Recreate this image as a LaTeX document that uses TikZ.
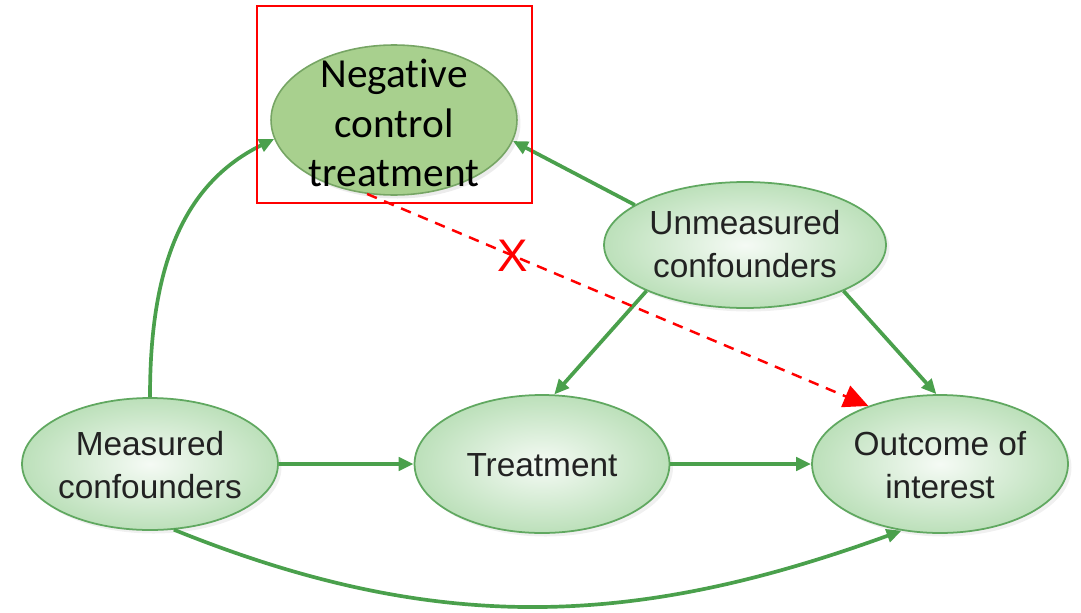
\documentclass[tikz,border=0pt]{standalone}
\usepackage{fontspec}
\newfontfamily\arialfont{Liberation Sans}
\newfontfamily\calfont[Ligatures=NoCommon]{Carlito}
\usetikzlibrary{arrows.meta,shapes.geometric,shadows}
\definecolor{edgegreen}{RGB}{74,160,76}
\definecolor{rimgreen}{RGB}{96,168,96}
\definecolor{palegreen}{RGB}{188,224,186}
\definecolor{negfill}{RGB}{168,208,142}
\definecolor{negrim}{RGB}{118,165,100}
\definecolor{textgray}{RGB}{34,34,34}
\begin{document}
\begin{tikzpicture}[x=0.02cm,y=-0.02cm,
		bubble/.style={ellipse, draw=rimgreen, line width=1pt, inner sep=0pt,
			shading=radial, inner color=white!85!palegreen, outer color=palegreen,
			drop shadow={opacity=0.12, shadow xshift=2pt, shadow yshift=-2pt}},
		bubbletext/.style={align=center, text=textgray, font=\arialfont\fontsize{19}{24.4}\selectfont},
		link/.style={edgegreen, line width=2.1pt, -{Triangle[length=8.5pt,width=7.5pt]}}]
	\useasboundingbox (0,0) rectangle (1081,612);
	% the five variables
	\node [ellipse, draw=negrim, line width=0.9pt, fill=negfill, minimum width=4.92cm, minimum height=3cm,
		drop shadow={opacity=0.15, shadow xshift=2pt, shadow yshift=-2pt}] (neg) at (394,120) {};
	\node [bubble, minimum width=5.64cm, minimum height=2.52cm] (unm) at (745,245) {};
	\node [bubble, minimum width=5.12cm, minimum height=2.64cm] (meas) at (150,464) {};
	\node [bubble, minimum width=5.1cm, minimum height=2.76cm] (treat) at (542,464) {};
	\node [bubble, minimum width=5.12cm, minimum height=2.76cm] (out) at (940,464) {};
	\node [align=center, font=\calfont\fontsize{23.5}{28.4}\selectfont] (negtext) at (394,123) {Negative\\control\\treatment};
	\node [bubbletext] (unmtext) at (745,244) {Unmeasured\\confounders};
	\node [bubbletext] (meastext) at (150,465) {Measured\\confounders};
	\node [bubbletext] (treattext) at (542,465) {Treatment};
	\node [bubbletext] (outtext) at (940,465) {Outcome of\\interest};
	% arrows
	\draw [link] (meas.north) to[out=90, in=206] (neg.189);
	\draw [link] (unm.160) -- (neg.350);
	\draw [link] (unm.205) -- (treat.80);
	\draw [link] (unm.335) -- (out.93);
	\draw [link] (meas) -- (treat);
	\draw [link] (treat) -- (out);
	\draw [link] (meas.290) to[out=-22, in=200] (out.240);
	% highlighted negative control
	\draw [red, line width=1.2pt] (257,6) rectangle (532,203);
	\draw [red, line width=1.4pt, dash pattern=on 6pt off 4.5pt, -{Triangle[length=14pt,width=13pt]}]
		(neg.250) -- node[pos=0.29, text=red, font=\arialfont\fontsize{26}{28}\selectfont] (cross) {X} (out.141);
\end{tikzpicture}
\end{document}
